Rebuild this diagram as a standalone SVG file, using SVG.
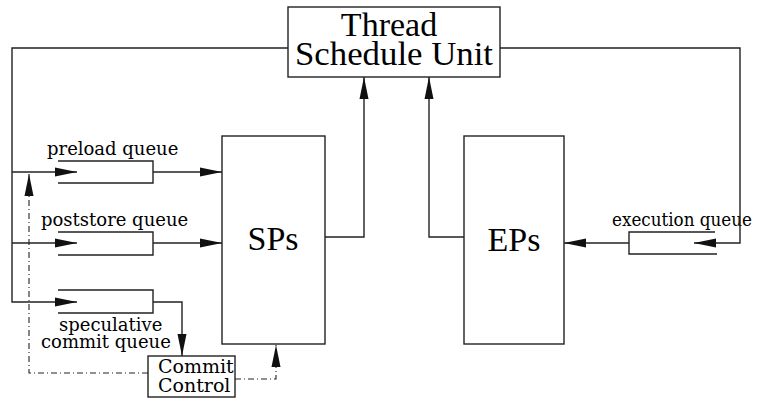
<svg xmlns="http://www.w3.org/2000/svg" width="760" height="399" viewBox="0 0 760 399">
  <style>
    .box { fill: none; stroke: #222; stroke-width: 1.4; }
    .wire { fill: none; stroke: #222; stroke-width: 1.4; }
    .dashdot { fill: none; stroke: #222; stroke-width: 1.1; stroke-dasharray: 6 3 1 3; }
    .big { font-family: "Liberation Serif", "Times New Roman", serif; font-size: 34px; fill: #000; }
    .small { font-family: "DejaVu Serif", "Liberation Serif", serif; font-size: 18px; fill: #000; }
    .cc { font-family: "DejaVu Serif", "Liberation Serif", serif; font-size: 19px; fill: #000; }
  </style>
  <defs>
    <marker id="arrow" markerUnits="userSpaceOnUse" markerWidth="22" markerHeight="10" refX="22" refY="5" orient="auto">
      <path d="M0,0.5 L22,5 L0,9.5 z" fill="#111"/>
    </marker>
  </defs>
  <rect width="760" height="399" fill="#fff"/>

  <!-- Nodes -->
  <g id="thread-schedule-unit">
    <rect class="box" x="288" y="7" width="212" height="70"/>
    <text class="big" x="389" y="36" text-anchor="middle">Thread</text>
    <text class="big" x="394" y="65" text-anchor="middle" textLength="198" lengthAdjust="spacingAndGlyphs">Schedule Unit</text>
  </g>

  <g id="sps">
    <rect class="box" x="222" y="136" width="103" height="208"/>
    <text class="big" x="273" y="250" text-anchor="middle">SPs</text>
  </g>

  <g id="eps">
    <rect class="box" x="464" y="136" width="100" height="208"/>
    <text class="big" x="514" y="251" text-anchor="middle">EPs</text>
  </g>

  <g id="preload-queue">
    <path class="box" d="M58,161 H153 V183 H58"/>
    <text class="small" x="47" y="155">preload queue</text>
  </g>

  <g id="poststore-queue">
    <path class="box" d="M58,232 H153 V255 H58"/>
    <text class="small" x="41" y="226">poststore queue</text>
  </g>

  <g id="speculative-commit-queue">
    <path class="box" d="M58,290 H153 V313 H58"/>
    <text class="small" x="59" y="331">speculative</text>
    <text class="small" x="41" y="348">commit queue</text>
  </g>

  <g id="commit-control">
    <rect class="box" x="148" y="356" width="87" height="41"/>
    <text class="cc" x="158" y="373">Commit</text>
    <text class="cc" x="158" y="392">Control</text>
  </g>

  <g id="execution-queue">
    <path class="box" d="M715,232 H629 V254 H717"/>
    <text class="small" x="612" y="226" textLength="140" lengthAdjust="spacingAndGlyphs">execution queue</text>
  </g>

  <!-- Connectors -->
  <g id="connectors">
    <!-- feedback from the schedule unit into the SP queues -->
    <path class="wire" d="M288,48 H12 V302 H77" marker-end="url(#arrow)"/>
    <path class="wire" d="M12,172 H77" marker-end="url(#arrow)"/>
    <path class="wire" d="M12,243 H77" marker-end="url(#arrow)"/>
    <!-- queues into SPs -->
    <path class="wire" d="M153,172 H222" marker-end="url(#arrow)"/>
    <path class="wire" d="M153,243 H222" marker-end="url(#arrow)"/>
    <!-- speculative commit queue into commit control -->
    <path class="wire" d="M153,302 H182 V356" marker-end="url(#arrow)"/>
    <!-- SPs and EPs back to the schedule unit -->
    <path class="wire" d="M325,237 H364 V77" marker-end="url(#arrow)"/>
    <path class="wire" d="M464,237 H429 V77" marker-end="url(#arrow)"/>
    <!-- schedule unit to execution queue, then into EPs -->
    <path class="wire" d="M500,48 H740 V243 H694" marker-end="url(#arrow)"/>
    <path class="wire" d="M629,243 H564" marker-end="url(#arrow)"/>
    <!-- commit control signals -->
    <path class="dashdot" d="M148,373 H29 V174" marker-end="url(#arrow)"/>
    <path class="dashdot" d="M235,379 H276 V345" marker-end="url(#arrow)"/>
  </g>
</svg>
